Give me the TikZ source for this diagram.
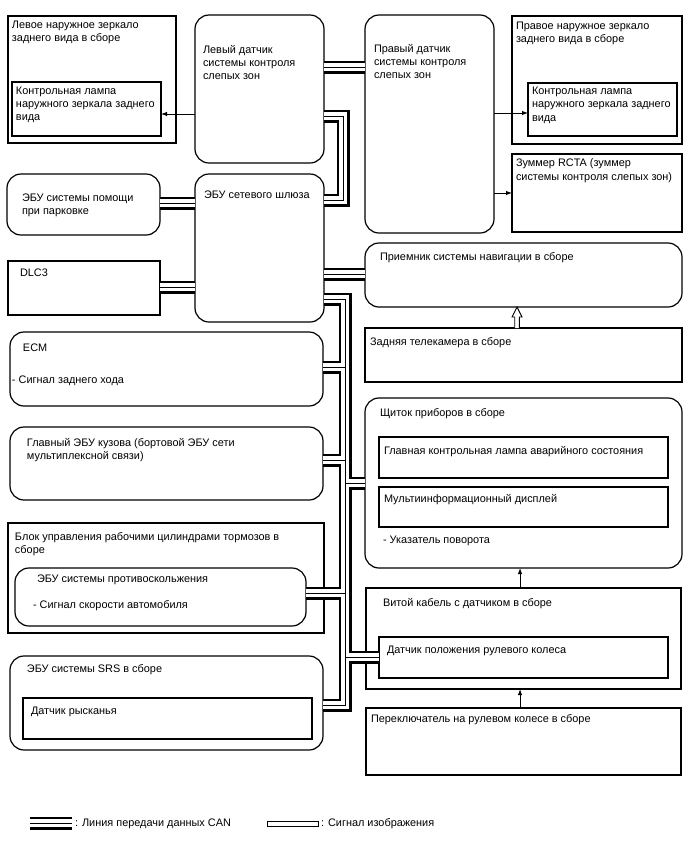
\documentclass[tikz,border=0pt]{standalone}
\usepackage{fontspec}
\setmainfont{Liberation Sans}
\usetikzlibrary{arrows.meta,calc}
\begin{document}
\begin{tikzpicture}[x=1pt,y=-1pt,
  box/.style={draw, line width=1.2pt, inner sep=0pt, outer sep=0pt, anchor=north west},
  rbox/.style={box, rounded corners=14pt},
  txt/.style={anchor=north west, inner sep=0pt, outer sep=0pt, align=left,
     font=\fontsize{10.9}{13.3}\selectfont, execute at begin node={\rule{0pt}{9pt}}},
  sig/.style={line width=1pt, -{Latex[length=6pt,width=4.5pt]}},
  canouter/.style={line width=13pt, line join=miter, draw=black},
  caninner/.style={line width=8pt, line join=miter, draw=white},
  canmid/.style={line width=1pt, line join=miter, draw=black}
]
\useasboundingbox (0,0) rectangle (688,852);
\fill[white] (0,0) rectangle (688,852);

% boxes
\node[box, minimum width=168pt, minimum height=127pt] (lmir) at (8,16) {};
\node[box, minimum width=149pt, minimum height=54pt] (lmirin) at (12,82) {};
\node[rbox, minimum width=129pt, minimum height=148pt] (lbsm) at (195,15) {};
\node[rbox, minimum width=129pt, minimum height=218pt] (rbsm) at (365,15) {};
\node[box, minimum width=170pt, minimum height=128pt] (rmir) at (512,16) {};
\node[box, minimum width=149pt, minimum height=53pt] (rmirin) at (528,83) {};
\node[box, minimum width=170pt, minimum height=78pt] (rcta) at (512,154) {};
\node[rbox, minimum width=153pt, minimum height=61pt] (park) at (7,174) {};
\node[rbox, minimum width=129pt, minimum height=148pt] (gw) at (195,174) {};
\node[box, minimum width=152pt, minimum height=54pt] (dlc) at (8,261) {};
\node[rbox, minimum width=317pt, minimum height=64pt] (nav) at (365,243) {};
\node[box, minimum width=317pt, minimum height=54pt] (cam) at (365,328) {};
\node[rbox, minimum width=317pt, minimum height=170pt] (clu) at (365,398) {};
\node[box, minimum width=289pt, minimum height=41pt] (cluin1) at (379,437) {};
\node[box, minimum width=289pt, minimum height=40pt] (cluin2) at (379,487) {};
\node[box, minimum width=315pt, minimum height=101pt] (spi) at (366,588) {};
\node[box, minimum width=289pt, minimum height=41pt] (spiin) at (379,637) {};
\node[box, minimum width=315pt, minimum height=67pt] (sw) at (366,708) {};
\node[rbox, minimum width=313pt, minimum height=74pt] (ecm) at (10,332) {};
\node[rbox, minimum width=313pt, minimum height=73pt] (body) at (10,427) {};
\node[box, minimum width=316pt, minimum height=110pt] (brk) at (8,523) {};
\node[rbox, minimum width=291pt, minimum height=58pt] (abs) at (15,568) {};
\node[rbox, minimum width=313pt, minimum height=94pt] (srs) at (10,656) {};
\node[box, minimum width=289pt, minimum height=41pt] (srsin) at (23,698) {};

% texts
\node[txt] (lmir-t) at (12,21) {Левое наружное зеркало\\заднего вида в сборе};
\node[txt] (lmirin-t) at (16,86.5) {Контрольная лампа\\наружного зеркала заднего\\вида};
\node[txt] (lbsm-t) at (203,45) {Левый датчик\\системы контроля\\слепых зон};
\node[txt] (rbsm-t) at (374,44) {Правый датчик\\системы контроля\\слепых зон};
\node[txt] (rmir-t) at (516,22) {Правое наружное зеркало\\заднего вида в сборе};
\node[txt] (rmirin-t) at (532,87) {Контрольная лампа\\наружного зеркала заднего\\вида};
\node[txt] (rcta-t) at (516,159) {Зуммер RCTA (зуммер\\системы контроля слепых зон)};
\node[txt] (park-t) at (22,194) {ЭБУ системы помощи\\при парковке};
\node[txt] (gw-t) at (204,189) {ЭБУ сетевого шлюза};
\node[txt] (dlc-t) at (20,267) {DLC3};
\node[txt] (nav-t) at (380,251) {Приемник системы навигации в сборе};
\node[txt] (cam-t) at (370,336) {Задняя телекамера в сборе};
\node[txt] (clu-t) at (380,407) {Щиток приборов в сборе};
\node[txt] (cluin1-t) at (384,445) {Главная контрольная лампа аварийного состояния};
\node[txt] (cluin2-t) at (384,493) {Мультиинформационный дисплей};
\node[txt] (turn-t) at (383,534) {- Указатель поворота};
\node[txt] (spi-t) at (383,597) {Витой кабель с датчиком в сборе};
\node[txt] (spiin-t) at (387,644) {Датчик положения рулевого колеса};
\node[txt] (sw-t) at (371,713) {Переключатель на рулевом колесе в сборе};
\node[txt] (ecm-t) at (23,342) {ECM};
\node[txt] (ecm2-t) at (12,374) {- Сигнал заднего хода};
\node[txt] (body-t) at (27,438) {Главный ЭБУ кузова (бортовой ЭБУ сети\\мультиплексной связи)};
\node[txt] (brk-t) at (15,532) {Блок управления рабочими цилиндрами тормозов в\\сборе};
\node[txt] (abs-t) at (37,573) {ЭБУ системы противоскольжения};
\node[txt] (abs2-t) at (33,599) {- Сигнал скорости автомобиля};
\node[txt] (srs-t) at (27,663) {ЭБУ системы SRS в сборе};
\node[txt] (srsin-t) at (31,705) {Датчик рысканья};

% legend
\coordinate (lgA) at (30,823);
\coordinate (lgB) at (72,823);
\node[txt] (lg1-t) at (75,817.5) {: Линия передачи данных CAN};
\node[box, line width=1pt, minimum width=51pt, minimum height=5pt] (lgimg) at (267,821) {};
\node[txt] (lg2-t) at (321,817.5) {: Сигнал изображения};

% signal arrows
\draw[sig] (lbsm.west |- 0,114) -- (lmirin.east |- 0,114);
\draw[sig] (rbsm.east |- 0,113) -- (rmirin.west |- 0,113);
\draw[sig] (rbsm.east |- 0,193) -- (rcta.west |- 0,193);
\draw[sig] (spi.north -| 520,0) -- (clu.south -| 520,0);
\draw[sig] (sw.north -| 520,0) -- (spi.south -| 520,0);

% image signal arrow
\coordinate (imgfoot) at (cam.north -| 517,0);
\coordinate (imgtip) at (nav.south -| 517,0);
\draw[line width=0.9pt, fill=white, line join=miter]
  ($(imgfoot)+(-2.3,0)$) -- ($(imgtip)+(-2.3,10)$) -- ($(imgtip)+(-5,10)$) -- (imgtip)
  -- ($(imgtip)+(5,10)$) -- ($(imgtip)+(2.3,10)$) -- ($(imgfoot)+(2.3,0)$);

% CAN lines
\newcommand\canpaths{%
  (lbsm.east |- 0,67) -- (rbsm.west |- 0,67)
  (lbsm.east |- 0,116) -- (343,116) -- (343,200) -- (gw.east |- 0,200)
  (park.east |- 0,203) -- (gw.west |- 0,203)
  (dlc.east |- 0,287) -- (gw.west |- 0,287)
  (gw.east |- 0,274) -- (nav.west |- 0,274)
  (gw.east |- 0,299) -- (345,299) -- (345,705) -- (srs.east |- 0,705)
  (345,367) -- (ecm.east |- 0,367)
  (345,460) -- (body.east |- 0,460)
  (345,593) -- (abs.east |- 0,593)
  (345,483) -- (clu.west |- 0,483)
  (345,657) -- (spiin.west |- 0,657)
  (lgA) -- (lgB)
}
\draw[canouter] \canpaths;
\draw[caninner] \canpaths;
\draw[canmid] \canpaths;
\end{tikzpicture}
\end{document}
